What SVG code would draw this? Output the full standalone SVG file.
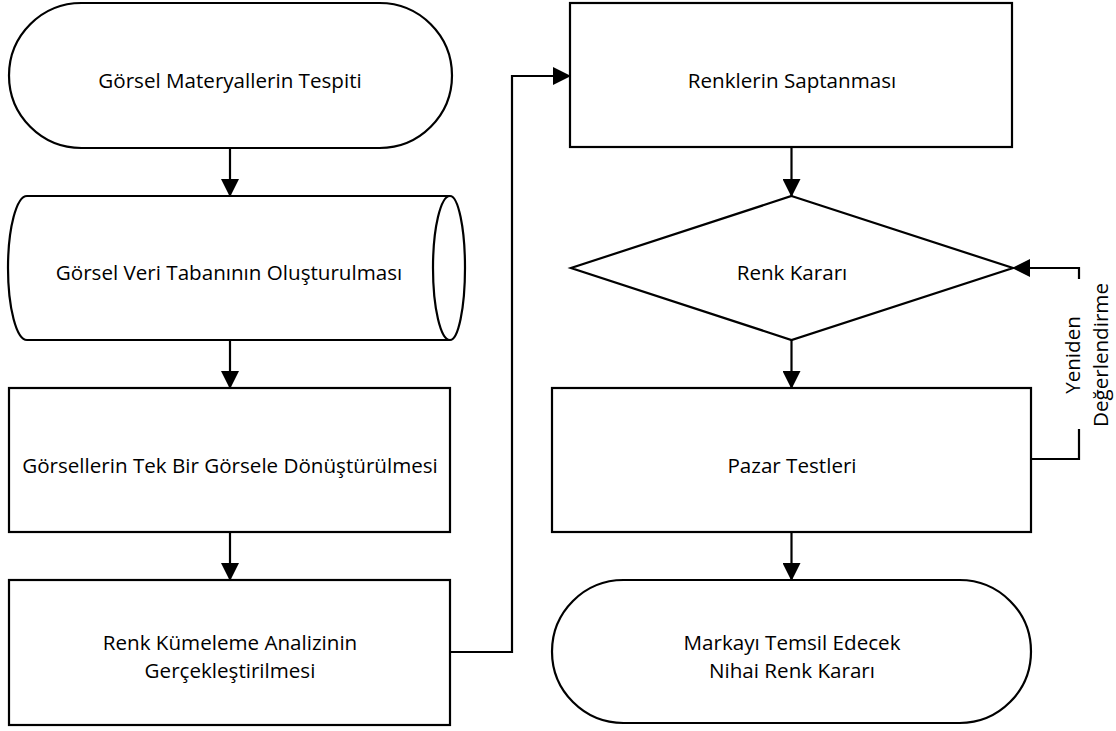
<svg xmlns="http://www.w3.org/2000/svg" width="1116" height="731" viewBox="0 0 1116 731">
<style>
  .shape { fill: #ffffff; stroke: #000000; stroke-width: 2.2; }
  .conn { fill: none; stroke: #000000; stroke-width: 2.2; }
  .lbl { font-family: "Open Sans", "Noto Sans", sans-serif; font-size: 20.6px; fill: #000000; text-anchor: middle; }
</style>
<defs>
  <marker id="arrow" markerUnits="userSpaceOnUse" markerWidth="18" markerHeight="18" viewBox="0 0 18 18" refX="17" refY="9" orient="auto">
    <path d="M0,0 L18,9 L0,18 Z" fill="#000000"/>
  </marker>
</defs>
<rect width="1116" height="731" fill="#ffffff"/>

<g id="connectors">
  <path class="conn" d="M230,148 L230,196" marker-end="url(#arrow)"/>
  <path class="conn" d="M230,340 L230,388" marker-end="url(#arrow)"/>
  <path class="conn" d="M230,532 L230,580" marker-end="url(#arrow)"/>
  <path class="conn" d="M450,652 L512,652 L512,76 L570,76" marker-end="url(#arrow)"/>
  <path class="conn" d="M791.5,147 L791.5,196" marker-end="url(#arrow)"/>
  <path class="conn" d="M791.5,340 L791.5,388" marker-end="url(#arrow)"/>
  <path class="conn" d="M791.5,532 L791.5,580" marker-end="url(#arrow)"/>
  <path class="conn" d="M1031,459 L1079,459 L1079,268 L1013,268" marker-end="url(#arrow)"/>
</g>

<g id="n1">
  <rect class="shape" x="9" y="3" width="443" height="145" rx="72.5" ry="72.5"/>
  <text class="lbl" x="230" y="88">Görsel Materyallerin Tespiti</text>
</g>

<g id="n2">
  <path class="shape" d="M27,196 L450,196 A15,72 0 0 1 450,340 L27,340 A19,72 0 0 1 27,196 Z"/>
  <path class="conn" d="M450,196 A17,72 0 0 0 450,340"/>
  <text class="lbl" x="229" y="280">Görsel Veri Tabanının Oluşturulması</text>
</g>

<g id="n3">
  <rect class="shape" x="9" y="388" width="441" height="144"/>
  <text class="lbl" x="230" y="473">Görsellerin Tek Bir Görsele Dönüştürülmesi</text>
</g>

<g id="n4">
  <rect class="shape" x="9" y="580" width="441" height="145"/>
  <text class="lbl" x="230" y="650">Renk Kümeleme Analizinin</text>
  <text class="lbl" x="230" y="678">Gerçekleştirilmesi</text>
</g>

<g id="n5">
  <rect class="shape" x="570" y="3" width="442" height="144"/>
  <text class="lbl" x="792" y="88">Renklerin Saptanması</text>
</g>

<g id="n6">
  <path class="shape" d="M791.5,196 L1013,268 L791.5,340 L571,268 Z"/>
  <text class="lbl" x="792" y="280">Renk Kararı</text>
</g>

<g id="n7">
  <rect class="shape" x="552" y="388" width="479" height="144"/>
  <text class="lbl" x="792" y="473">Pazar Testleri</text>
</g>

<g id="n8">
  <rect class="shape" x="552" y="580" width="479" height="143" rx="71.5" ry="71.5"/>
  <text class="lbl" x="792" y="650">Markayı Temsil Edecek</text>
  <text class="lbl" x="792" y="678">Nihai Renk Kararı</text>
</g>

<g id="feedback-label">
  <rect x="1060" y="279" width="56" height="150" fill="#ffffff"/>
  <g transform="translate(1094,355) rotate(-90)">
    <text class="lbl" x="0" y="-14">Yeniden</text>
    <text class="lbl" x="0" y="14">Değerlendirme</text>
  </g>
</g>
</svg>
